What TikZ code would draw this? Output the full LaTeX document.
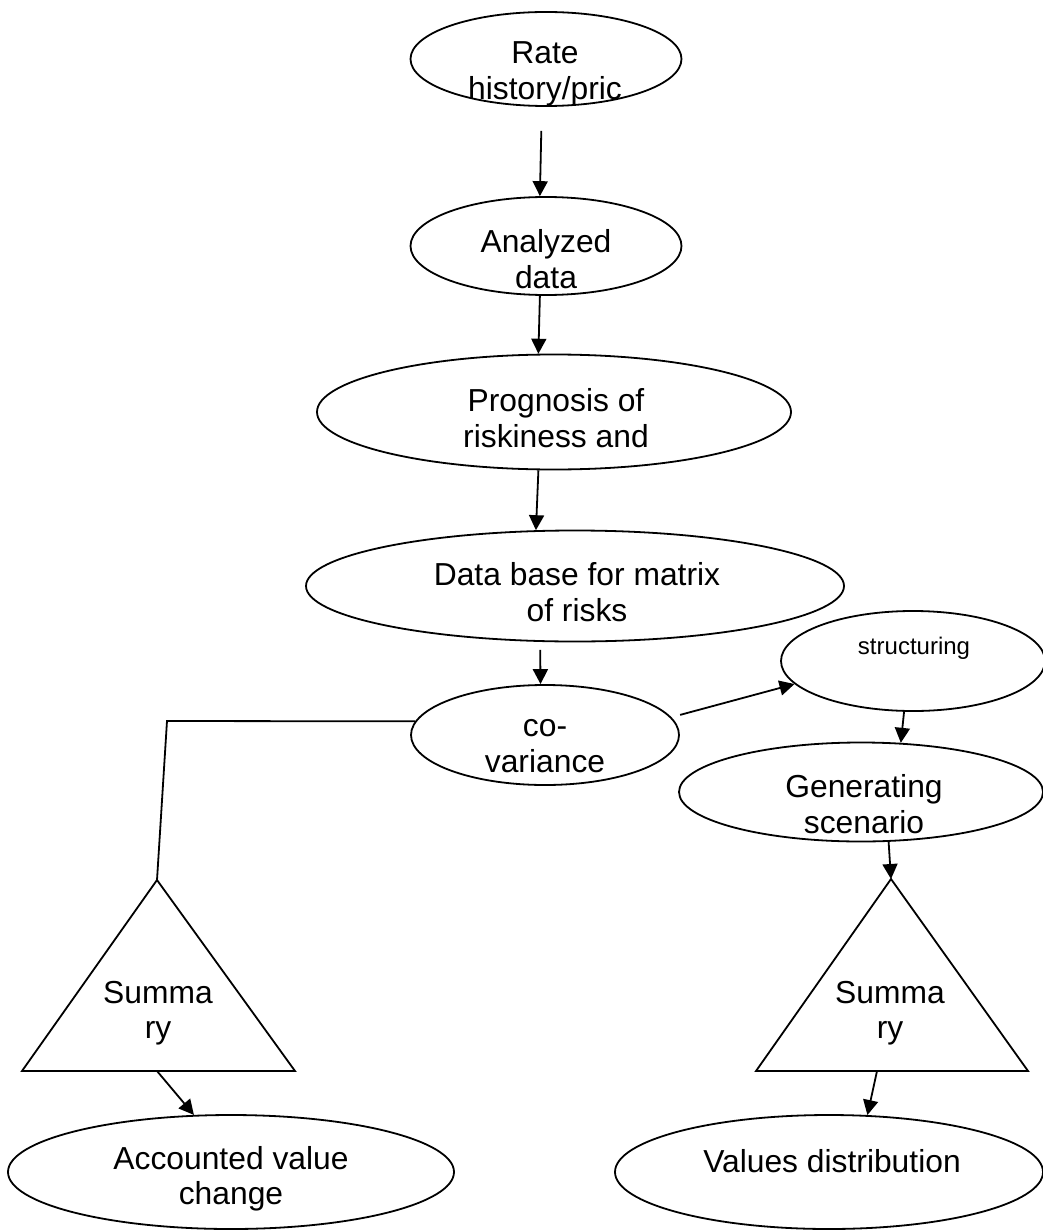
\documentclass[tikz,border=0pt]{standalone}
\usepackage{fontspec}
\setmainfont{Liberation Sans}
\usetikzlibrary{shapes.geometric,arrows.meta}
\begin{document}
\begin{tikzpicture}[x=1pt,y=-1pt,
  ell/.style={draw, ellipse, line width=1.8pt, inner sep=0pt},
  lbl/.style={align=center, font=\fontsize{31.8}{35.5}\selectfont, inner sep=0pt},
  smalllbl/.style={align=center, font=\fontsize{24}{28}\selectfont, inner sep=0pt},
  arr/.style={-{Triangle[length=15pt,width=15pt]}, line width=1.8pt},
  ln/.style={line width=1.8pt}]
\useasboundingbox (0,0) rectangle (1042,1230);

% ellipses
\node[ell, minimum width=271pt, minimum height=94pt] (rate) at (546,59) {};
\node[ell, minimum width=271pt, minimum height=98pt] (anal) at (546,246) {};
\node[ell, minimum width=474pt, minimum height=115pt] (prog) at (554,412) {};
\node[ell, minimum width=538pt, minimum height=111pt] (dbase) at (575,586) {};
\node[ell, minimum width=268pt, minimum height=100pt] (cov) at (545,735) {};
\node[ell, minimum width=264pt, minimum height=100pt] (struc) at (913,661) {};
\node[ell, minimum width=364pt, minimum height=99pt] (gen) at (861,792) {};
\node[ell, minimum width=446pt, minimum height=114pt] (acc) at (231,1172) {};
\node[ell, minimum width=428pt, minimum height=114pt] (vals) at (829,1172) {};

% texts
\node[lbl] (rateT) at (545,74) {Rate\\history/pric};
\node[lbl] (analT) at (546,259) {Analyzed\\data};
\node[lbl] (progT) at (556,418) {Prognosis of\\riskiness and};
\node[lbl] (dbaseT) at (577,592) {Data base for matrix\\of risks};
\node[lbl] (covT) at (545,746) {co-\\variance};
\node[smalllbl] (strucT) at (914,648) {structuring};
\node[lbl] (genT) at (864,804) {Generating\\scenario};
\node[lbl] (accT) at (231,1179) {Accounted value\\change};
\node[lbl] (valsT) at (832,1161) {Values distribution};
\node[lbl] (lsumT) at (158,1013) {Summa\\ry};
\node[lbl] (rsumT) at (890,1013) {Summa\\ry};

% triangles
\coordinate (lA) at (157,880);
\coordinate (lL) at (22,1071);
\coordinate (lR) at (295,1071);
\coordinate (lB) at (157,1071);
\coordinate (rA) at (891,879);
\coordinate (rL) at (756,1071);
\coordinate (rR) at (1028,1071);
\coordinate (rB) at (877,1071);
\draw[ln] (lA) -- (lR) -- (lL) -- cycle;
\draw[ln] (rA) -- (rR) -- (rL) -- cycle;

% connectors
\coordinate (bend) at (167,721);
\draw[arr, shorten <=24pt] (rate.265) -- (anal.97);
\draw[arr] (anal.263) -- (prog.105);
\draw[arr] (prog.255) -- (dbase.125);
\draw[arr, shorten <=8pt] (dbase.238) -- (cov.95);
\draw[arr, shorten <=9pt] (cov.8) -- (struc.191);
\draw[arr] (struc.260) -- (gen.51);
\draw[arr] (gen.299) -- (rA);
\draw[arr] (rB) -- (vals.56);
\draw[arr] (lB) -- (acc.123);
\draw[ln] (cov.174) -- (bend) -- (lA);
\end{tikzpicture}
\end{document}
